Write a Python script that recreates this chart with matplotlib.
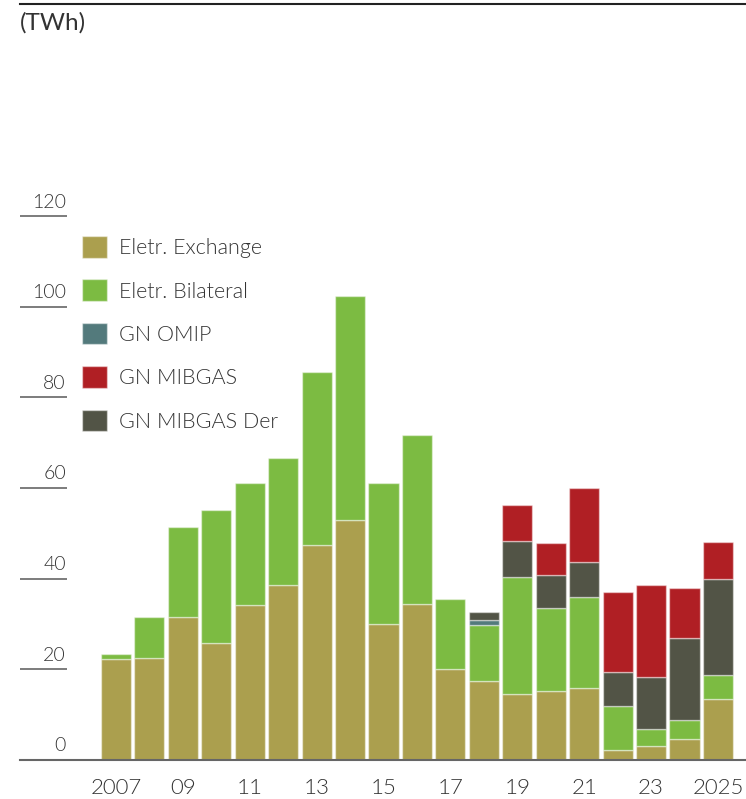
import matplotlib
matplotlib.use("Agg")
import matplotlib.pyplot as plt
from matplotlib import font_manager as fm
import numpy as np

plt.rcParams["font.family"] = ["Lato", "DejaVu Sans"]

years = list(range(2007, 2026))
tick_labels = ["2007", "09", "11", "13", "15", "17", "19", "21", "23", "2025"]

eletr_exchange = [22.2, 22.4, 31.5, 25.7, 34.1, 38.5, 47.4, 52.9, 29.9, 34.3,
                  20.0, 17.4, 14.5, 15.1, 15.8, 2.1, 3.0, 4.5, 13.3]
eletr_bilateral = [1.2, 9.1, 19.8, 29.5, 27.1, 28.1, 38.2, 49.5, 31.3, 37.4,
                   15.5, 12.4, 25.8, 18.5, 20.2, 9.8, 3.8, 4.3, 5.3]
gn_omip = [0, 0, 0, 0, 0, 0, 0, 0, 0, 0,
           0, 1.1, 0, 0, 0, 0, 0, 0, 0]
gn_mibgas_der = [0, 0, 0, 0, 0, 0, 0, 0, 0, 0,
                 0, 1.8, 7.9, 7.3, 7.6, 7.4, 11.5, 18.1, 21.2]
gn_mibgas = [0, 0, 0, 0, 0, 0, 0, 0, 0, 0,
             0, 0, 8.1, 6.9, 16.4, 17.8, 20.3, 11.0, 8.3]

series = [
    ("Eletr. Exchange", eletr_exchange, "#ab9f4e"),
    ("Eletr. Bilateral", eletr_bilateral, "#7cbb42"),
    ("GN OMIP", gn_omip, "#537a7c"),
    ("GN MIBGAS Der", gn_mibgas_der, "#525446"),
    ("GN MIBGAS", gn_mibgas, "#b01f24"),
]
legend_order = ["Eletr. Exchange", "Eletr. Bilateral", "GN OMIP", "GN MIBGAS", "GN MIBGAS Der"]


def lato_file(keyword):
    for f in fm.fontManager.ttflist:
        base = f.fname.split("/")[-1].lower()
        if "lato" in base and keyword in base and "italic" not in base:
            return f.fname
    return None


light_path = lato_file("-light.")
if light_path:
    light = lambda size: fm.FontProperties(fname=light_path, size=size)
else:
    light = lambda size: fm.FontProperties(family=["Lato", "DejaVu Sans"], size=size)

W, H = 746, 799
fig = plt.figure(figsize=(W / 100, H / 100), dpi=100)
ax = fig.add_axes([20 / W, (H - 759.7) / H, 726 / W, (759.7 - 4) / H])

x = np.arange(len(years))
bottom = np.zeros(len(years))
handles = {}
for name, vals, color in series:
    vals = np.array(vals, dtype=float)
    mask = vals > 0
    bars = ax.bar(x[mask], vals[mask], bottom=bottom[mask], width=0.9, color=color,
                  edgecolor=(1, 1, 1, 0.45), linewidth=1.0, label=name, zorder=2)
    handles[name] = bars
    bottom += vals

ax.set_xlim(-2.87, 18.84)
ax.set_ylim(0, 166.9)

for s in ["left", "right"]:
    ax.spines[s].set_visible(False)
ax.spines["top"].set_color("#222222")
ax.spines["top"].set_linewidth(1.5)
ax.spines["bottom"].set_color("#666666")
ax.spines["bottom"].set_linewidth(1.5)

ax.set_yticks([])
ax.set_xticks(x[::2])
ax.set_xticklabels(tick_labels)
for t in ax.get_xticklabels():
    t.set_fontproperties(light(16))
    t.set_color("#333333")
ax.tick_params(axis="x", length=0, pad=13.5)

# y gridline stubs with labels sitting on top of them
ytr = ax.get_yaxis_transform()
for v in range(0, 121, 20):
    ax.plot([0, 47 / 726], [v, v], transform=ytr, color="#666666", lw=1.2,
            clip_on=False, solid_capstyle="butt")
    ax.annotate(str(v), xy=(46 / 726, v), xycoords=ytr, xytext=(0, 4),
                textcoords="offset points", ha="right", va="bottom",
                fontproperties=light(14), color="#333333")

fig.text(20 / W, 1 - 12 / H, "(TWh)", ha="left", va="top", fontsize=17.5,
         color="#333333")

leg = ax.legend([handles[n] for n in legend_order], legend_order,
                loc="upper left", bbox_to_anchor=(82 / W, (H - 236) / H),
                bbox_transform=fig.transFigure, frameon=False,
                prop=light(15.5),
                handlelength=1.17, handleheight=1.17, handletextpad=0.55,
                labelspacing=0.99, borderpad=0, borderaxespad=0)
for t in leg.get_texts():
    t.set_color("#333333")

fig.savefig("out.png", dpi=100)
